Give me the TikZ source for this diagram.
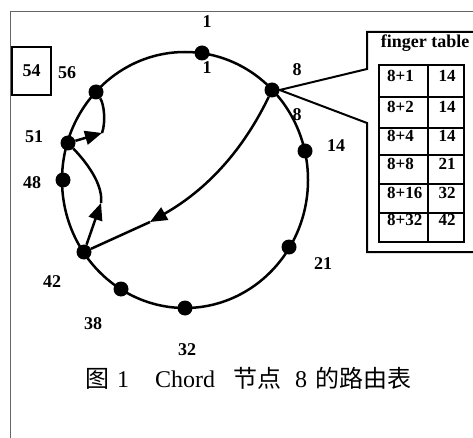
\documentclass[tikz,border=0pt]{standalone}
\usepackage{fontspec}
\setmainfont{Liberation Serif}
\newfontfamily\cjk{Noto Sans CJK SC}
\usetikzlibrary{arrows.meta}
\begin{document}
\begin{tikzpicture}[x=1pt,y=-1pt,
  dot/.style={circle,fill=black,inner sep=0pt,minimum size=15pt},
  lbl/.style={font=\bfseries\fontsize{18}{18}\selectfont,inner sep=0pt},
  tlbl/.style={font=\bfseries\fontsize{17}{17}\selectfont,inner sep=0pt},
  ring/.style={line width=2.5pt},
  conn/.style={line width=2.5pt},
  tbl/.style={line width=2pt},
  frameline/.style={line width=1pt,draw=black!60},
  tiparrow/.style={-{Triangle[length=17pt,width=14pt]}},
]
\useasboundingbox (0,0) rectangle (473,438);
% page frame
\coordinate (fl) at (10,438);
\coordinate (ftl) at (10,12);
\coordinate (fr) at (473,12);
\draw[frameline] (fl) -- (ftl) -- (fr);
% ring
\draw[ring] (185,180) ellipse [x radius=123, y radius=128];
% nodes
\node[dot] (n1) at (202,53) {};
\node[dot] (n8) at (272,90) {};
\node[dot] (n14) at (305,151) {};
\node[dot] (n21) at (289,247) {};
\node[dot] (n32) at (185,308) {};
\node[dot] (n38) at (121,289) {};
\node[dot] (n42) at (84,252) {};
\node[dot] (n48) at (63,180) {};
\node[dot] (n51) at (68,143) {};
\node[dot] (n56) at (96,92) {};
% labels
\node[lbl] (l1a) at (207,22) {1};
\node[lbl] (l1b) at (207,68) {1};
\node[lbl] (l8a) at (297,70) {8};
\node[lbl] (l8b) at (297,115) {8};
\node[lbl] (l14) at (336,146) {14};
\node[lbl] (l21) at (323,264) {21};
\node[lbl] (l32) at (187,350) {32};
\node[lbl] (l38) at (93,324) {38};
\node[lbl] (l42) at (52,282) {42};
\node[lbl] (l48) at (32,183) {48};
\node[lbl] (l51) at (34,137) {51};
\node[lbl] (l56) at (67,73) {56};
\node[lbl,draw,line width=2pt,minimum width=39pt,minimum height=48pt] (b54) at (31.5,71) {54};
% connectors
\coordinate (tipA) at (150,222);
\draw[conn,tiparrow] (n8) .. controls (248,140) and (215,185) .. (tipA);
\draw[conn] (tipA) -- (n42);
\coordinate (tipB) at (101,203);
\draw[conn,tiparrow] (n42) -- (tipB);
\draw[conn] (tipB) .. controls (103,188) and (92,168) .. (n51);
\coordinate (tipC) at (102,133);
\draw[conn,tiparrow] (n51) -- (tipC);
\draw[conn] (tipC) .. controls (106,122) and (104,104) .. (n56);
% callout
\coordinate (cTR) at (480,32);
\coordinate (cBR) at (480,252);
\draw[tbl,line join=miter] (cTR) -- (367,32) -- (367,69) -- (n8.east) -- (367,123) -- (367,252) -- (cBR);
\node[lbl] (ft) at (425,43) {finger table};
% table
\draw[tbl] (379,65) rectangle (464,242);
\draw[tbl] (428,65) -- (428,242);
\foreach \yy in {97,128,155,184,213} \draw[tbl] (379,\yy) -- (464,\yy);
\foreach \yy/\a/\b in {76/8+1/14,107/8+2/14,136/8+4/14,164/8+8/21,193/8+16/32,220/8+32/42}{
  \node[tlbl,anchor=west] at (387,\yy) {\a};
  \node[tlbl] at (447,\yy) {\b};
}
% caption
\node[anchor=west,inner sep=0pt,font=\fontsize{24}{24}\selectfont] (cap) at (85,378)
 {{\cjk 图}\hspace{8pt}1\hspace{26pt}Chord\hspace{18pt}{\cjk 节点}\hspace{14pt}8\hspace{8pt}{\cjk 的路由表}};
\end{tikzpicture}
\end{document}
